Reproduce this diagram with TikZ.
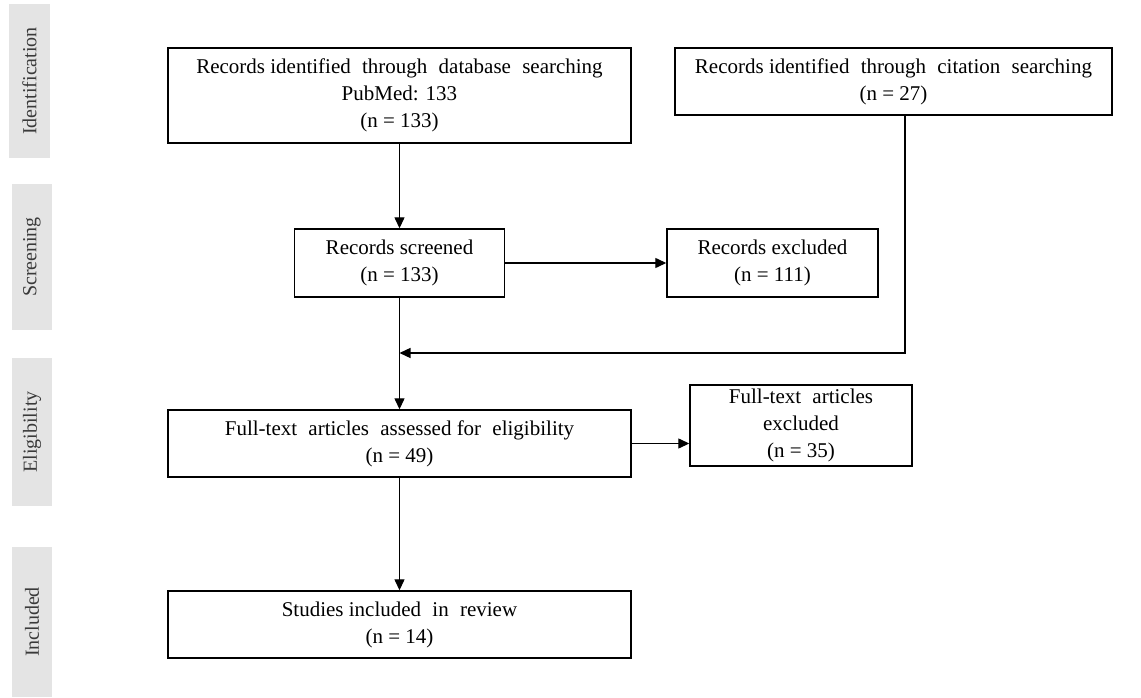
\documentclass[tikz,border=0pt]{standalone}
\usepackage{fontspec}
\setmainfont{Liberation Serif}
\usetikzlibrary{arrows.meta}
\definecolor{phasefill}{HTML}{E4E4E4}
\definecolor{phasetext}{HTML}{3A3A3A}
% a slightly wider word gap, as in the justified box texts
\newcommand{\wgap}{\hspace{6pt}}
\begin{document}
\begin{tikzpicture}[x=1pt,y=-1pt,
  box/.style={draw=black, line width=1.4pt, align=center, inner sep=0pt,
    font=\fontsize{21}{27}\selectfont, text=black},
  phase/.style={fill=phasefill, inner sep=0pt, rotate=90,
    font=\fontsize{20}{24}\selectfont, text=phasetext},
  flow/.style={line width=1.3pt, -{Triangle[length=11pt,width=10pt]}}]
\useasboundingbox (0,0) rectangle (1141,698);

% phase labels on the left
\node[phase, minimum width=154pt, minimum height=41pt] (pid) at (29.5,81) {Identification};
\node[phase, minimum width=146pt, minimum height=40pt] (pscr) at (32,257) {Screening};
\node[phase, minimum width=148pt, minimum height=40pt] (pel) at (32,432) {Eligibility};
\node[phase, minimum width=150pt, minimum height=40pt] (pinc) at (32,622) {Included};

% flow boxes
\node[box, minimum width=463pt, minimum height=95pt] (db) at (399.5,95.5)
  {Records identified \wgap through \wgap database \wgap searching\\PubMed: 133\\(n = 133)};
\node[box, minimum width=437pt, minimum height=67pt] (cit) at (893.5,81.5)
  {Records identified \wgap through \wgap citation \wgap searching\\(n = 27)};
\node[box, minimum width=210pt, minimum height=68pt] (scr) at (399.5,263)
  {Records screened\\(n = 133)};
\node[box, minimum width=211pt, minimum height=68pt] (exc) at (772.5,263)
  {Records excluded\\(n = 111)};
\node[box, minimum width=463pt, minimum height=67pt] (ft) at (399.5,443.5)
  {Full-text \wgap articles \wgap assessed for \wgap eligibility\\(n = 49)};
\node[box, minimum width=222pt, minimum height=81pt] (fte) at (801,425.5)
  {Full-text \wgap articles\\excluded\\(n = 35)};
\node[box, minimum width=463pt, minimum height=67pt] (inc) at (399.5,624.5)
  {Studies included \wgap in \wgap review\\(n = 14)};

% connectors
\coordinate (cx) at (905,353);
\draw[flow] (scr.north |- db.south) -- (scr.north);
\draw[flow] (scr.east) -- (exc.west);
\draw[flow] (scr.south) -- (ft.north);
\draw[flow] (cit.south -| cx) |- (scr.south |- cx);
\draw[flow] (ft.east) -- (fte.west |- ft.east);
\draw[flow] (ft.south) -- (inc.north);
\end{tikzpicture}
\end{document}
